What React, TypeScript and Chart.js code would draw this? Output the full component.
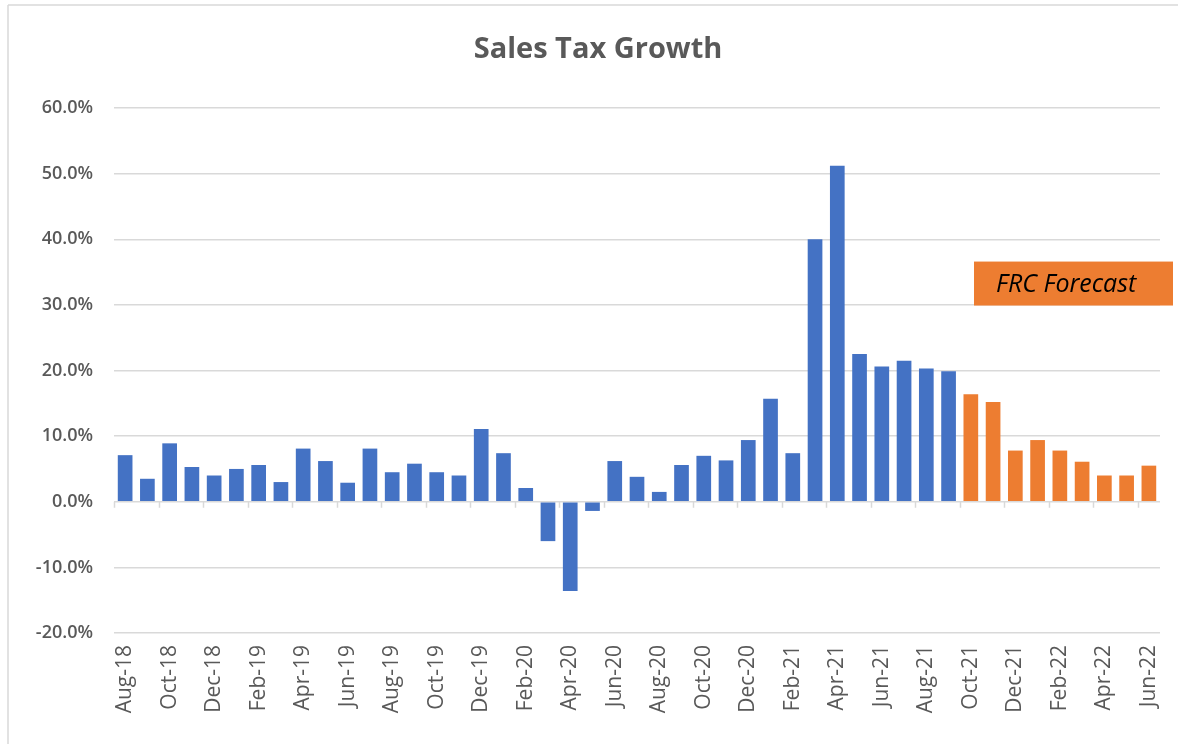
import React, { useEffect, useRef } from "react";
import { Chart, registerables } from "chart.js";
Chart.register(...registerables);

const months = [
  "Aug-18", "Sep-18", "Oct-18", "Nov-18", "Dec-18", "Jan-19", "Feb-19", "Mar-19", "Apr-19", "May-19", "Jun-19", "Jul-19",
  "Aug-19", "Sep-19", "Oct-19", "Nov-19", "Dec-19", "Jan-20", "Feb-20", "Mar-20", "Apr-20", "May-20", "Jun-20", "Jul-20",
  "Aug-20", "Sep-20", "Oct-20", "Nov-20", "Dec-20", "Jan-21", "Feb-21", "Mar-21", "Apr-21", "May-21", "Jun-21", "Jul-21",
  "Aug-21", "Sep-21", "Oct-21", "Nov-21", "Dec-21", "Jan-22", "Feb-22", "Mar-22", "Apr-22", "May-22", "Jun-22",
];

// Actual sales tax growth (%), Aug-18 .. Sep-21
const actualGrowth = [
  7.1, 3.5, 8.9, 5.3, 4.0, 5.0, 5.6, 3.0, 8.1, 6.2,
  2.9, 8.1, 4.5, 5.8, 4.5, 4.0, 11.1, 7.4, 2.1, -6.0,
  -13.6, -1.4, 6.2, 3.8, 1.5, 5.6, 7.0, 6.3, 9.4, 15.7,
  7.4, 40.0, 51.2, 22.5, 20.6, 21.5, 20.3, 19.9,
];

// FRC forecast (%), Oct-21 .. Jun-22
const forecastGrowth = [16.4, 15.2, 7.8, 9.4, 7.8, 6.1, 4.0, 4.0, 5.5];

const yMin = -20;
const yMax = 60;
const yStep = 10;

const titleText = "Sales Tax Growth";
const forecastLabel = "FRC Forecast";

const BLUE = "#4472C4";
const ORANGE = "#ED7D31";
const GRID = "#d9d9d9";
const TEXT = "#595959";

export default function App() {
  const ref = useRef<HTMLCanvasElement>(null);

  useEffect(() => {
    document.body.style.margin = "0";
    const canvas = ref.current;
    if (!canvas) return;
    const nA = actualGrowth.length;
    const actualData = months.map((_, i) => (i < nA ? actualGrowth[i] : null));
    const forecastData = months.map((_, i) => (i >= nA ? forecastGrowth[i - nA] : null));

    const decor = {
      id: "decor",
      beforeDraw(chart: any) {
        const c = chart.ctx;
        c.save();
        c.fillStyle = "#ffffff";
        c.fillRect(0, 0, chart.width, chart.height);
        c.strokeStyle = GRID;
        c.lineWidth = 1.5;
        c.beginPath();
        c.moveTo(8, 5);
        c.lineTo(chart.width, 5);
        c.moveTo(8, 5);
        c.lineTo(8, chart.height);
        c.stroke();
        c.restore();
      },
      afterDraw(chart: any) {
        const c = chart.ctx;
        const xs = chart.scales.x;
        const ys = chart.scales.y;
        const area = chart.chartArea;
        c.save();
        // zero-line tick marks every two categories
        const y0 = ys.getPixelForValue(0);
        const step = (xs.right - xs.left) / months.length;
        c.strokeStyle = GRID;
        c.lineWidth = 1.5;
        c.beginPath();
        for (let k = 0; k < months.length; k += 2) {
          const x = Math.round(xs.left + k * step) + 0.5;
          c.moveTo(x, y0);
          c.lineTo(x, y0 + 6);
        }
        c.stroke();

        // title
        c.fillStyle = TEXT;
        c.font = "700 29px 'Open Sans'";
        c.textAlign = "center";
        c.textBaseline = "middle";
        c.fillText(titleText, 598, 50);

        // forecast label box
        const bx = 974;
        const by = ys.getPixelForValue(36.6);
        const bh = ys.getPixelForValue(29.9) - by;
        c.fillStyle = ORANGE;
        c.fillRect(bx, by, area.right + 13 - bx, bh);
        c.fillStyle = "#000000";
        c.font = "italic 25px 'Open Sans'";
        c.textAlign = "left";
        c.fillText(forecastLabel, 996, by + bh / 2 + 1);
        c.restore();
      },
    };

    const chart = new Chart(canvas, {
      type: "bar",
      data: {
        labels: months,
        datasets: [
          {
            label: "Actual",
            data: actualData,
            backgroundColor: BLUE,
            grouped: false,
            barPercentage: 0.66,
            categoryPercentage: 1,
          } as any,
          {
            label: "Forecast",
            data: forecastData,
            backgroundColor: ORANGE,
            grouped: false,
            barPercentage: 0.66,
            categoryPercentage: 1,
          } as any,
        ],
      },
      options: {
        responsive: false,
        animation: false,
        layout: { padding: { top: 108, right: 18, left: 0, bottom: 0 } },
        plugins: {
          legend: { display: false },
          title: { display: false },
          tooltip: { enabled: false },
        },
        scales: {
          x: {
            grid: { display: false, drawTicks: false },
            border: { display: false },
            ticks: {
              autoSkip: false,
              minRotation: 90,
              maxRotation: 90,
              padding: 12,
              color: TEXT,
              font: { family: "'Open Sans'", size: 21 },
              callback: (_v: any, i: number) => (i % 2 === 0 ? months[i] : ""),
            },
            afterFit: (s: any) => {
              s.height = 111;
              s.paddingLeft = 0;
              s.paddingRight = 0;
            },
          },
          y: {
            min: yMin,
            max: yMax,
            grid: { color: GRID, lineWidth: 1.5, drawTicks: false },
            border: { display: false },
            ticks: {
              stepSize: yStep,
              padding: 21,
              color: TEXT,
              font: { family: "'Open Sans'", size: 18, weight: 600 },
              callback: (v: any) => `${Number(v).toFixed(1)}%`,
            },
            afterFit: (s: any) => {
              s.width = 114;
            },
          },
        },
      },
      plugins: [decor],
    });
    return () => chart.destroy();
  }, []);

  return (
    <div style={{ width: 1178, height: 744, position: "relative" }}>
      <canvas ref={ref} width={1178} height={744} style={{ display: "block" }} />
    </div>
  );
}
